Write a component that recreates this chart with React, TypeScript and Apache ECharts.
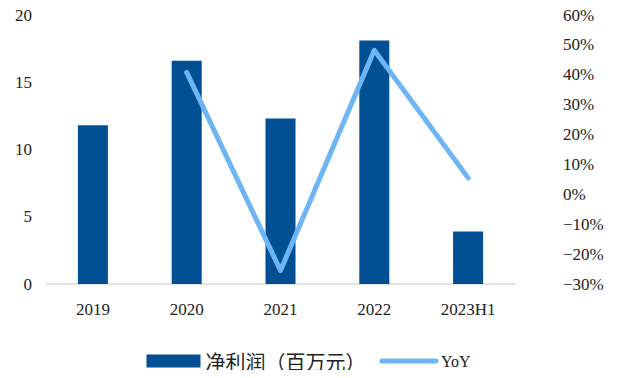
import React, { useEffect, useRef } from "react";
import * as echarts from "echarts";

const categories = ["2019", "2020", "2021", "2022", "2023H1"];
const netProfit = [11.8, 16.6, 12.3, 18.1, 3.9];
const yoy: (number | null)[] = [null, 40.8, -25.5, 48.2, 5.5];

const FONT = "Liberation Serif";
const tickRich = { t: { fontSize: 17, fontFamily: FONT, color: "#222" } };

export default function App() {
  const ref = useRef<HTMLDivElement>(null);
  useEffect(() => {
    if (!ref.current) return;
    const chart = echarts.init(ref.current, null, { renderer: "svg" });
    chart.setOption({
      animation: false,
      textStyle: { fontFamily: FONT },
      grid: { left: 46, right: 102, top: 15, bottom: 94, containLabel: false },
      legend: {
        bottom: 2,
        left: "center",
        itemWidth: 54,
        itemHeight: 13,
        itemGap: 14,
        textStyle: {
          fontSize: 16,
          color: "#222",
          fontFamily: FONT,
          rich: {
            c: { fontSize: 20, fontFamily: "Noto Sans CJK SC", color: "#222" },
          },
        },
        formatter: (name: string) => (name === "YoY" ? name : "{c|" + name + "}"),
        data: [
          { name: "净利润（百万元）", icon: "rect" },
          {
            name: "YoY",
            itemStyle: { opacity: 0 },
            lineStyle: { width: 5, color: "#6DB5F4", cap: "round" },
          },
        ],
      },
      xAxis: {
        type: "category",
        data: categories,
        axisLine: { lineStyle: { color: "#d9d9d9", width: 1.5 } },
        axisTick: { show: false },
        axisLabel: {
          interval: 0,
          fontSize: 17,
          color: "#222",
          margin: 17,
          fontFamily: FONT,
          rich: tickRich,
          formatter: (v: string) => "{t|" + v + "}",
        },
      },
      yAxis: [
        {
          type: "value",
          min: 0,
          max: 20,
          interval: 5,
          splitLine: { show: false },
          axisLine: { show: false },
          axisTick: { show: false },
          axisLabel: {
            fontSize: 17,
            color: "#222",
            margin: 14,
            fontFamily: FONT,
            rich: tickRich,
            formatter: (v: number) => "{t|" + v + "}",
          },
        },
        {
          type: "value",
          min: -30,
          max: 60,
          interval: 10,
          splitLine: { show: false },
          axisLine: { show: false },
          axisTick: { show: false },
          axisLabel: {
            fontSize: 17,
            color: "#222",
            margin: 48,
            align: "left",
            fontFamily: FONT,
            rich: tickRich,
            formatter: (v: number) =>
              "{t|" + (v < 0 ? "−" + Math.abs(v) + "%" : v + "%") + "}",
          },
        },
      ],
      series: [
        {
          name: "净利润（百万元）",
          type: "bar",
          data: netProfit,
          barWidth: 30,
          itemStyle: { color: "#004F93" },
        },
        {
          name: "YoY",
          type: "line",
          yAxisIndex: 1,
          data: yoy,
          symbol: "none",
          lineStyle: { color: "#6DB5F4", width: 5, cap: "round", join: "round" },
          itemStyle: { color: "#6DB5F4" },
        },
      ],
    });
    return () => chart.dispose();
  }, []);
  return <div ref={ref} style={{ width: 617, height: 378, margin: -8 }} />;
}
